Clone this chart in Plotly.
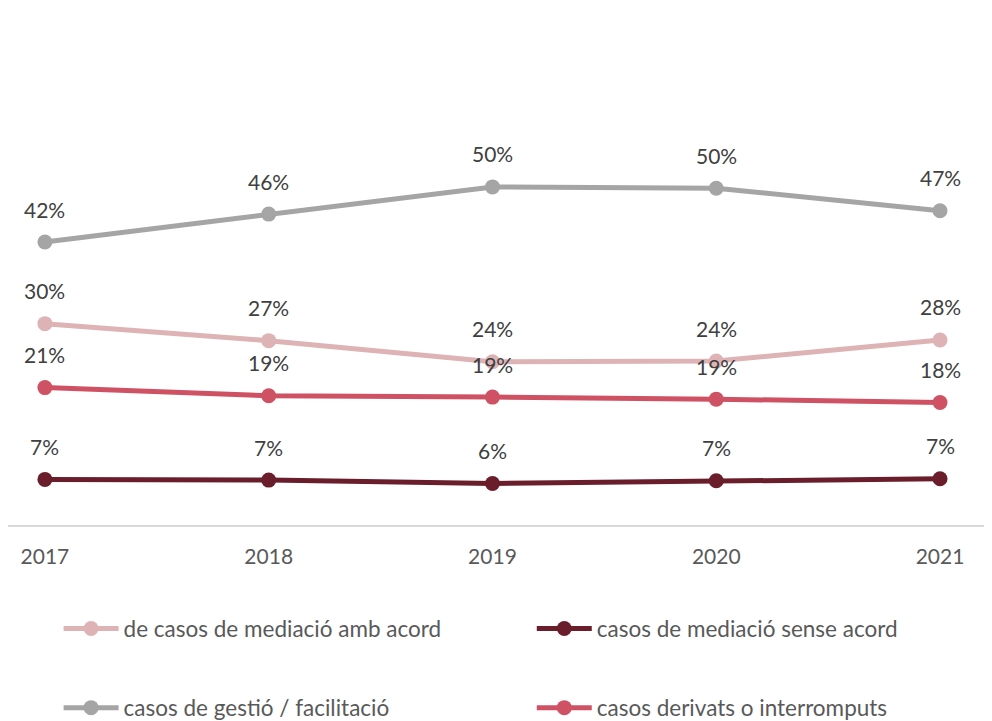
import plotly.graph_objects as go

years = ["2017", "2018", "2019", "2020", "2021"]
acord = [29.9, 27.4, 24.3, 24.4, 27.5]
sense = [7.0, 6.9, 6.4, 6.8, 7.1]
gestio = [41.9, 46.0, 50.0, 49.8, 46.5]
derivats = [20.5, 19.3, 19.1, 18.8, 18.3]

acord_labels = ["30%", "27%", "24%", "24%", "28%"]
sense_labels = ["7%", "7%", "6%", "7%", "7%"]
gestio_labels = ["42%", "46%", "50%", "50%", "47%"]
derivats_labels = ["21%", "19%", "19%", "19%", "18%"]

names = ["de casos de mediació amb acord", "casos de mediació sense acord",
         "casos de gestió / facilitació", "casos derivats o interromputs"]
series = [acord, sense, gestio, derivats]
labels = [acord_labels, sense_labels, gestio_labels, derivats_labels]
colors = ["#DEB3B5", "#6A1D2B", "#A5A5A5", "#CE5164"]
legends = ["legend", "legend2", "legend3", "legend4"]

FONT = "Lato"
xs = list(range(len(years)))

fig = go.Figure()
for name, vals, labs, col, lg in zip(names, series, labels, colors, legends):
    fig.add_trace(go.Scatter(
        x=xs, y=vals, name=name, mode="lines+markers",
        line=dict(color=col, width=5),
        marker=dict(color=col, size=15),
        legend=lg,
    ))
    for xi, v, t in zip(xs, vals, labs):
        fig.add_annotation(x=xi, y=v, text=t, showarrow=False,
                           yshift=33, font=dict(family=FONT, size=21, color="#404040"))

def leg(x, y):
    return dict(orientation="h", x=x, y=y, xanchor="left", yanchor="middle",
                itemwidth=55, bgcolor="rgba(0,0,0,0)",
                font=dict(family=FONT, size=22.5, color="#595959"))

fig.update_layout(
    width=992, height=721,
    margin=dict(l=0, r=0, t=0, b=204, autoexpand=False),
    paper_bgcolor="white", plot_bgcolor="white",
    font=dict(family=FONT, size=21, color="#595959"),
    showlegend=True,
    legend=leg(0.051, -0.201),
    legend2=leg(0.528, -0.201),
    legend3=leg(0.051, -0.354),
    legend4=leg(0.528, -0.354),
)
fig.update_xaxes(range=[-0.165, 4.268], tickvals=xs, ticktext=years,
                 showgrid=False, zeroline=False, showline=True, automargin=False,
                 linecolor="#D9D9D9", linewidth=2,
                 ticks="outside", ticklen=12, tickcolor="rgba(0,0,0,0)",
                 tickfont=dict(family=FONT, size=21, color="#595959"))
fig.update_yaxes(range=[0.3, 76.3], visible=False, showgrid=False, zeroline=False,
                 automargin=False)

fig.write_html("out.html")
